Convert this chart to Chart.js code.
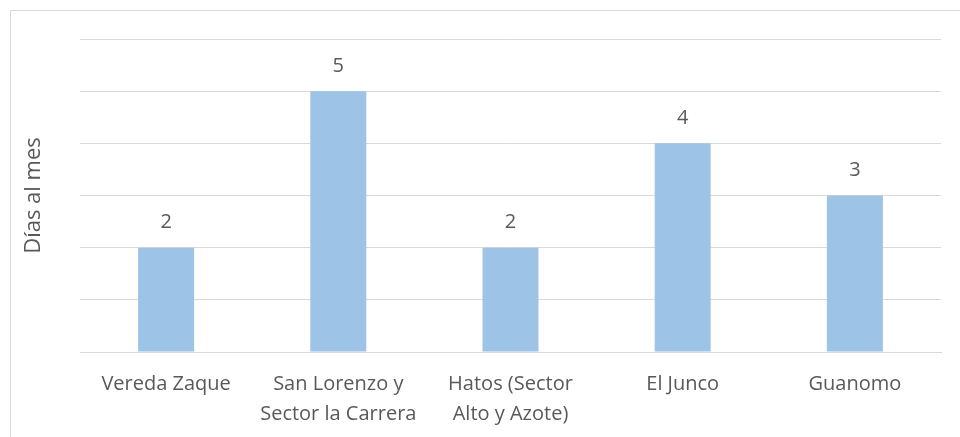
<!DOCTYPE html>
<html>
<head>
    <meta charset="utf-8">
    <title>Días al mes</title>
    <script src="https://cdn.jsdelivr.net/npm/chart.js"></script>
    <style>
        html, body {
            margin: 0;
            padding: 0;
            background: #ffffff;
        }
        .chart-container {
            width: 960px;
            height: 437px;
        }
    </style>
</head>
<body>
    <div class="chart-container">
        <canvas id="diasChart"></canvas>
    </div>

    <script>
        // data
        var categories = [
            ['Vereda Zaque'],
            ['San Lorenzo y', 'Sector la Carrera'],
            ['Hatos (Sector', 'Alto y Azote)'],
            ['El Junco'],
            ['Guanomo']
        ];
        var dias = [2, 5, 2, 4, 3];
        var yMax = 6;
        var yTitle = 'Días al mes';

        var textColor = '#595959';
        var gridColor = '#d9d9d9';
        var barColor = '#9dc3e6';

        // light frame on the top and left, like the original picture
        var framePlugin = {
            id: 'frame',
            beforeDraw: function (chart) {
                var ctx = chart.ctx;
                ctx.save();
                ctx.strokeStyle = '#d9d9d9';
                ctx.lineWidth = 1;
                ctx.beginPath();
                ctx.moveTo(10.5, chart.height);
                ctx.lineTo(10.5, 10.5);
                ctx.lineTo(chart.width, 10.5);
                ctx.stroke();
                ctx.restore();
            }
        };

        // value above each bar
        var valueLabels = {
            id: 'valueLabels',
            afterDatasetsDraw: function (chart) {
                var ctx = chart.ctx;
                var meta = chart.getDatasetMeta(0);
                ctx.save();
                ctx.fillStyle = textColor;
                ctx.font = '20px "Open Sans", sans-serif';
                ctx.textAlign = 'center';
                ctx.textBaseline = 'middle';
                meta.data.forEach(function (bar, i) {
                    ctx.fillText(String(dias[i]), bar.x, bar.y - 25);
                });
                ctx.restore();
            }
        };

        var ctx = document.getElementById('diasChart').getContext('2d');
        var diasChart = new Chart(ctx, {
            type: 'bar',
            data: {
                labels: categories,
                datasets: [{
                    data: dias,
                    backgroundColor: barColor,
                    borderWidth: 0,
                    categoryPercentage: 1,
                    barPercentage: 0.325
                }]
            },
            options: {
                responsive: true,
                maintainAspectRatio: false,
                animation: false,
                layout: {
                    padding: { left: 10, right: 19, top: 39, bottom: 0 }
                },
                plugins: {
                    legend: { display: false },
                    tooltip: { enabled: false }
                },
                scales: {
                    x: {
                        grid: { display: false },
                        border: { color: gridColor, width: 1 },
                        ticks: {
                            color: textColor,
                            font: { family: 'Open Sans', size: 20, lineHeight: 1.5 },
                            padding: 9,
                            maxRotation: 0,
                            autoSkip: false
                        },
                        afterFit: function (scale) {
                            scale.height = 85;
                        }
                    },
                    y: {
                        min: 0,
                        max: yMax,
                        ticks: { display: false, stepSize: 1 },
                        grid: { color: gridColor, drawTicks: false },
                        border: { display: false },
                        title: {
                            display: true,
                            text: yTitle,
                            color: textColor,
                            font: { family: 'Open Sans', size: 22 },
                            padding: { top: 11, bottom: 0 }
                        },
                        afterFit: function (scale) {
                            scale.width = 70;
                        }
                    }
                }
            },
            plugins: [framePlugin, valueLabels]
        });
    </script>
</body>
</html>
